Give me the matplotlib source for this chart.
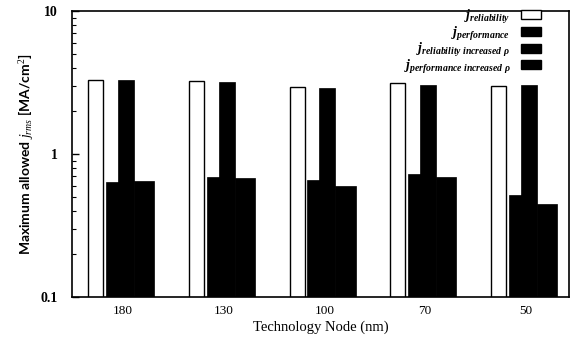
import matplotlib
matplotlib.use("Agg")
import matplotlib.pyplot as plt
from matplotlib.patches import Patch
import numpy as np

plt.rcParams['font.family'] = ['Liberation Serif', 'DejaVu Serif']
plt.rcParams['mathtext.fontset'] = 'custom'
plt.rcParams['mathtext.rm'] = 'Liberation Serif'
plt.rcParams['mathtext.it'] = 'Liberation Serif:italic'
plt.rcParams['mathtext.bf'] = 'Liberation Serif:bold'
plt.rcParams['mathtext.bfit'] = 'Liberation Serif:bold:italic'

nodes = ["180", "130", "100", "70", "50"]
j_reliability = [3.3, 3.22, 2.96, 3.16, 2.99]
j_performance = [0.64, 0.695, 0.655, 0.726, 0.514]
j_reliability_inc = [3.3, 3.2, 2.90, 3.03, 3.03]
j_performance_inc = [0.65, 0.68, 0.60, 0.69, 0.447]

labels = [r'$\mathbfit{j}_{\mathbfit{reliability}}$',
          r'$\mathbfit{j}_{\mathbfit{performance}}$',
          r'$\mathbfit{j}_{\mathbfit{reliability\ increased\ \rho}}$',
          r'$\mathbfit{j}_{\mathbfit{performance\ increased\ \rho}}$']

fig = plt.figure(figsize=(5.72, 3.37), dpi=100)
ax = fig.add_axes([72/572, 1-297/337, 497/572, (297-11)/337])

x = np.arange(len(nodes))
ax.bar(x - 0.347, j_reliability, width=0.149, align='edge', color='white',
       edgecolor='black', linewidth=1.0, log=True)
ax.bar(x - 0.169, j_performance, width=0.139, align='edge', color='black',
       edgecolor='black', linewidth=0.5, log=True)
ax.bar(x - 0.050, j_reliability_inc, width=0.159, align='edge', color='black',
       edgecolor='black', linewidth=0.5, log=True)
ax.bar(x + 0.109, j_performance_inc, width=0.199, align='edge', color='black',
       edgecolor='black', linewidth=0.5, log=True)

ax.set_yscale('log')
ax.set_ylim(0.1, 10)
ax.set_xlim(-0.506, -0.506 + 497/100.75)
ax.set_xticks(x)
ax.set_xticklabels(nodes, fontsize=9.5)
ax.set_yticks([0.1, 1, 10])
ax.set_yticklabels(["0.1", "1", "10"], fontsize=10, fontweight='bold')
ax.tick_params(axis='x', length=0, pad=6)
ax.tick_params(axis='y', which='major', direction='in', length=5, width=1, right=False, pad=10)
ax.tick_params(axis='y', which='minor', direction='in', length=3, width=0.8, right=False, labelleft=False)
for s in ax.spines.values():
    s.set_linewidth(1.2)

ax.set_xlabel("Technology Node (nm)", fontsize=10.5, labelpad=2)
ax.set_ylabel(r"Maximum allowed $\mathit{j}_{\mathit{rms}}$ [MA/cm$^2$]", fontsize=10,
              fontfamily=['Lato', 'DejaVu Sans'], fontweight='bold')
ax.yaxis.set_label_coords(-0.075, 0.5)

handles = [Patch(facecolor='white', edgecolor='black', linewidth=1.0),
           Patch(facecolor='black', edgecolor='black'),
           Patch(facecolor='black', edgecolor='black'),
           Patch(facecolor='black', edgecolor='black')]
ax.legend(handles, labels, loc='upper right', bbox_to_anchor=(0.96, 1.04),
          frameon=False, markerfirst=False, fontsize=10, handlelength=1.4,
          handleheight=0.6, labelspacing=-0.1, handletextpad=0.8, borderaxespad=0.2)

fig.savefig("out.png", dpi=100)
